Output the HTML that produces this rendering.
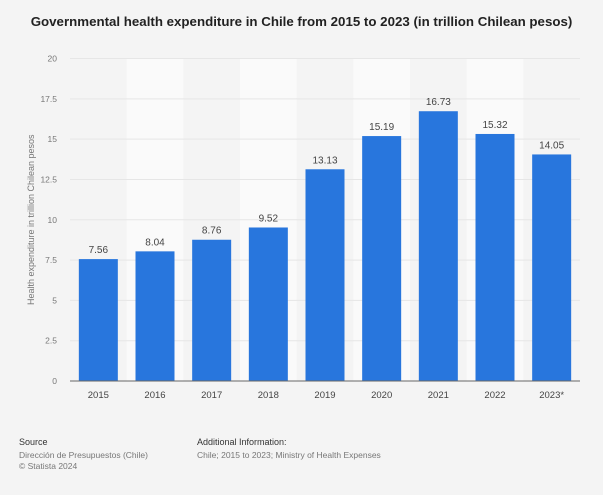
<!DOCTYPE html>
<html><head><meta charset="utf-8"><style>
body{margin:0;background:#f4f4f4;font-family:"Liberation Sans",sans-serif;}
#wrap{position:relative;width:603px;height:495px;overflow:hidden;}
.t{position:absolute;font-size:8.5px;color:#777;}
</style></head><body>
<div id="wrap">
<div style="position:absolute;top:14px;left:0;width:603px;text-align:center;font-weight:bold;font-size:13.3px;color:#222;">Governmental health expenditure in Chile from 2015 to 2023 (in trillion Chilean pesos)</div>
<svg id="c" width="603" height="495" style="position:absolute;left:0;top:0"></svg>
<div class="t" style="left:19px;top:437px;color:#333;font-size:9px;">Source</div>
<div class="t" style="left:19px;top:450px;line-height:11px;">Dirección de Presupuestos (Chile)<br>© Statista 2024</div>
<div class="t" style="left:197px;top:437px;color:#333;font-size:9px;">Additional Information:</div>
<div class="t" style="left:197px;top:450px;">Chile; 2015 to 2023; Ministry of Health Expenses</div>
</div>
<script>
const categories=["2015","2016","2017","2018","2019","2020","2021","2022","2023*"];
const values=[7.56,8.04,8.76,9.52,13.13,15.19,16.73,15.32,14.05];
const yTicks=[0,2.5,5,7.5,10,12.5,15,17.5,20];
const svg=document.getElementById('c');const NS='http://www.w3.org/2000/svg';
const L=70,R=580,T=58.5,B=381,max=20;
const bw=(R-L)/categories.length;
const y=v=>B-(B-T)*v/max;const x=i=>L+i*bw;
function mk(t,a,p){const e=document.createElementNS(NS,t);for(const k in a)e.setAttribute(k,a[k]);(p||svg).appendChild(e);return e;}
categories.forEach((c,i)=>{if(i%2==1){const r=mk('rect',{x:x(i),y:T,width:bw,height:B-T,fill:'#fafafa'});

}});
yTicks.forEach(v=>{const l=mk('line',{x1:L,x2:R,y1:y(v),y2:y(v),stroke:'#e6e6e6','stroke-width':1});


const t=mk('text',{x:57,y:y(v)+3,'text-anchor':'end','font-size':8.5,fill:'#777'});t.textContent=v;

});
categories.forEach((c,i)=>{const cx=x(i)+bw/2;
const r=mk('rect',{x:cx-19.5,y:y(values[i]),width:39,height:B-y(values[i]),fill:'#2876dd'});


const t=mk('text',{x:cx,y:y(values[i])-6,'text-anchor':'middle','font-size':10,fill:'#444'});t.textContent=values[i].toFixed(2);


const xt=mk('text',{x:cx,y:398,'text-anchor':'middle','font-size':9.5,fill:'#444'});xt.textContent=c;

});
const ax=mk('line',{x1:L,x2:R,y1:B,y2:B,stroke:'#666','stroke-width':1});


const yt=mk('text',{x:0,y:0,'text-anchor':'middle','font-size':9,fill:'#777',transform:'translate(34,'+((T+B)/2)+') rotate(-90)'});yt.textContent='Health expenditure in trillion Chilean pesos';


</script></body></html>
